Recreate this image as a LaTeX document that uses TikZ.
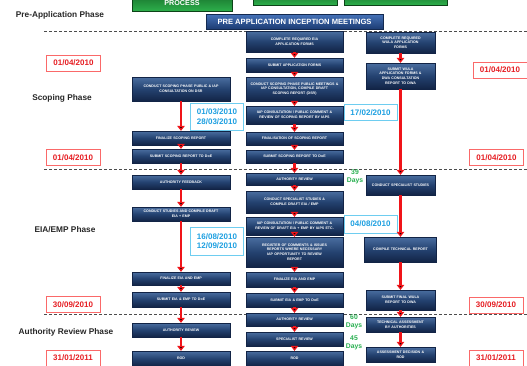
\documentclass[tikz,border=0pt]{standalone}
\usepackage{fontspec}
\setmainfont{Liberation Sans}
\usetikzlibrary{arrows.meta,shadows}
\definecolor{boxtop}{RGB}{74,110,160}
\definecolor{boxmid}{RGB}{36,66,112}
\definecolor{boxbot}{RGB}{18,36,70}
\definecolor{pretop}{RGB}{70,115,185}
\definecolor{prebot}{RGB}{28,60,115}
\definecolor{proctop}{RGB}{18,95,35}
\definecolor{procbot}{RGB}{45,175,75}
\definecolor{datered}{RGB}{230,30,35}
\definecolor{dateframe}{RGB}{250,105,105}
\definecolor{dateblue}{RGB}{30,160,225}
\definecolor{blueframe}{RGB}{110,205,240}
\definecolor{daysgreen}{RGB}{40,175,80}
\definecolor{flowred}{RGB}{240,20,25}

\begin{document}
\begin{tikzpicture}[x=1pt,y=-1pt]
        \tikzstyle{stage}=[draw=boxbot, line width=0.3pt, top color=boxtop, bottom color=boxbot, middle color=boxmid, text=white, font=\fontsize{3.6}{4.6}\selectfont\bfseries, align=center, inner sep=0.5pt, drop shadow={shadow xshift=0.7pt, shadow yshift=-0.7pt, opacity=0.35}]
        \tikzstyle{lcol}=[stage, minimum width=98pt, text width=90pt]
        \tikzstyle{mcol}=[stage, minimum width=97pt, text width=89pt]
        \tikzstyle{rcol}=[stage, minimum width=69pt, text width=63pt]
        \tikzstyle{process}=[draw=proctop!70!black, line width=0.3pt, top color=proctop, bottom color=procbot]
        \tikzstyle{inception}=[draw=prebot!70!black, line width=0.4pt, top color=pretop, bottom color=prebot, text=white, font=\fontsize{7.6}{8}\selectfont\bfseries, minimum width=177pt, minimum height=15pt, inner sep=0pt, drop shadow={shadow xshift=0.8pt, shadow yshift=-0.8pt, opacity=0.35}]
        \tikzstyle{reddate}=[draw=dateframe, line width=0.7pt, fill=white, text=datered, font=\fontsize{8}{9}\selectfont\bfseries, minimum width=54pt, minimum height=16pt, inner sep=0pt]
        \tikzstyle{bluedate}=[draw=blueframe, line width=0.7pt, fill=white, text=dateblue, font=\fontsize{8}{9.5}\selectfont\bfseries, align=center, minimum width=53pt, inner sep=0pt]
        \tikzstyle{phase}=[text=black!85, font=\fontsize{8.3}{9}\selectfont\bfseries]
        \tikzstyle{days}=[text=daysgreen, font=\fontsize{6.8}{8.4}\selectfont\bfseries, align=center]
        \tikzstyle{phaseline}=[draw=black!70, line width=0.9pt, dash pattern=on 3pt off 2pt]
        \tikzstyle{flow}=[draw=flowred, line width=2.6pt, -{Triangle[width=7.5pt,length=5pt]}]
       \useasboundingbox (0,0) rectangle (527,365);
       \clip (0,0) rectangle (527,365);
       % phase separators
       \draw[phaseline] (44,31) -- (527,31);
       \draw[phaseline] (44,169) -- (527,169);
       \draw[phaseline] (44,314) -- (527,314);
       \begin{scope}
         % top banners
         \node [process, minimum width=100pt, minimum height=22pt] (g1) at (182,0) {};
         \node [text=white, font=\fontsize{7.2}{8}\selectfont\bfseries] (proc) at (182,3.5) {PROCESS};
         \node [process, minimum width=84pt, minimum height=16pt] (g2) at (295,-3) {};
         \node [process, minimum width=103pt, minimum height=16pt] (g3) at (395.5,-3) {};
         \node [inception] (pre) at (294.5,21.5) {PRE APPLICATION INCEPTION MEETINGS};
         % phase names
         \node [phase] (p1) at (60,15) {Pre-Application Phase};
         \node [phase] (p2) at (62,98) {Scoping Phase};
         \node [phase] (p3) at (65,230) {EIA/EMP Phase};
         \node [phase] (p4) at (66,332) {Authority Review Phase};
         % dates
         \node [reddate] (dl1) at (73.5,63) {01/04/2010};
         \node [reddate] (dl2) at (73,157.5) {01/04/2010};
         \node [reddate] (dl3) at (73,304.5) {30/09/2010};
         \node [reddate] (dl4) at (73,358) {31/01/2011};
         \node [reddate] (dr1) at (500,70) {01/04/2010};
         \node [reddate] (dr2) at (496.5,157.5) {01/04/2010};
         \node [reddate] (dr3) at (496,305) {30/09/2010};
         \node [reddate] (dr4) at (496,358) {31/01/2011};
         \node [bluedate, minimum height=27pt] (b1) at (217,116.5) {01/03/2010\\28/03/2010};
         \node [bluedate, minimum height=16pt] (b2) at (370.5,112.5) {17/02/2010};
         \node [bluedate, minimum height=18pt] (b3) at (370.5,224) {04/08/2010};
         \node [bluedate, minimum height=28pt] (b4) at (217,241) {16/08/2010\\12/09/2010};
         \node [days] (t1) at (355,177) {39\\Days};
         \node [days] (t2) at (354,322) {60\\Days};
         \node [days] (t3) at (354,343) {45\\Days};
         % left column
         \node [lcol, minimum height=24pt] (l1) at (181,89) {CONDUCT SCOPING PHASE PUBLIC \& IAP\\CONSULTATION ON DSR};
         \node [lcol, minimum height=14pt] (l2) at (181,138) {FINALIZE SCOPING REPORT};
         \node [lcol, minimum height=14pt] (l3) at (181,156) {SUBMIT SCOPING REPORT TO DoE};
         \node [lcol, minimum height=14pt] (l4) at (181,182) {AUTHORITY FEEDBACK};
         \node [lcol, minimum height=14pt] (l5) at (181,214) {CONDUCT STUDIES AND COMPILE DRAFT\\EIA + EMP};
         \node [lcol, minimum height=13pt] (l6) at (181,278.5) {FINALIZE EIA AND EMP};
         \node [lcol, minimum height=15pt] (l7) at (181,299.5) {SUBMIT EIA \& EMP TO DoE};
         \node [lcol, minimum height=14pt] (l8) at (181,330) {AUTHORITY REVIEW};
         \node [lcol, minimum height=15pt] (l9) at (181,358.5) {ROD};
         % middle column
         \node [mcol, minimum height=21pt] (m1) at (294.5,41.5) {COMPLETE REQUIRED EIA\\APPLICATION FORMS};
         \node [mcol, minimum height=14pt] (m2) at (294.5,65) {SUBMIT APPLICATION FORMS};
         \node [mcol, minimum height=24pt] (m3) at (294.5,89) {CONDUCT SCOPING PHASE PUBLIC MEETINGS \&\\IAP CONSULTATION, COMPILE DRAFT\\SCOPING REPORT (DSR)};
         \node [mcol, minimum height=18pt] (m4) at (294.5,115) {IAP CONSULTATION / PUBLIC COMMENT \&\\REVIEW OF SCOPING REPORT BY IAPS};
         \node [mcol, minimum height=13pt] (m5) at (294.5,138.5) {FINALISATION OF SCOPING REPORT};
         \node [mcol, minimum height=13pt] (m6) at (294.5,156.5) {SUBMIT SCOPING REPORT TO DoE};
         \node [mcol, minimum height=12pt] (m7) at (294.5,179) {AUTHORITY REVIEW};
         \node [mcol, minimum height=22pt] (m8) at (294.5,202) {CONDUCT SPECIALIST STUDIES \&\\COMPILE DRAFT EIA / EMP};
         \node [mcol, minimum height=18pt] (m9) at (294.5,226) {IAP CONSULTATION / PUBLIC COMMENT \&\\REVIEW OF DRAFT EIA + EMP BY IAPS ETC.};
         \node [mcol, minimum height=30pt] (m10) at (294.5,252) {REGISTER OF COMMENTS \& ISSUES\\REPORTS WHERE NECESSARY\\IAP OPPORTUNITY TO REVIEW\\REPORT};
         \node [mcol, minimum height=15pt] (m11) at (294.5,279.5) {FINALIZE EIA AND EMP};
         \node [mcol, minimum height=14pt] (m12) at (294.5,300) {SUBMIT EIA \& EMP TO DoE};
         \node [mcol, minimum height=13pt] (m13) at (294.5,319.5) {AUTHORITY REVIEW};
         \node [mcol, minimum height=14pt] (m14) at (294.5,339) {SPECIALIST REVIEW};
         \node [mcol, minimum height=15pt] (m15) at (294.5,358.5) {ROD};
         % right column
         \node [rcol, minimum height=21pt] (r1) at (400.5,42.5) {COMPLETE REQUIRED\\WULA APPLICATION\\FORMS};
         \node [rcol, minimum height=26pt] (r2) at (400.5,76) {SUBMIT WULA\\APPLICATION FORMS \&\\DWA CONSULTATION\\REPORT TO DWA};
         \node [rcol, minimum height=20pt] (r3) at (400.5,185) {CONDUCT SPECIALIST STUDIES};
         \node [rcol, minimum width=72pt, minimum height=25pt] (r4) at (400.5,249.5) {COMPILE TECHNICAL REPORT};
         \node [rcol, minimum height=20pt] (r5) at (400.5,300) {SUBMIT FINAL WULA\\REPORT TO DWA};
         \node [rcol, minimum height=15pt] (r6) at (400.5,324.5) {TECHNICAL ASSESSMENT\\BY AUTHORITIES};
         \node [rcol, minimum height=15pt] (r7) at (400.5,354.5) {ASSESSMENT DECISION \&\\ROD};
         % flows
         \path[flow] (l1) edge (l2);
         \path[flow] (l2) edge (l3);
         \path[flow] (l3) edge (l4);
         \path[flow] (l4) edge (l5);
         \path[flow] (l5) edge (l6);
         \path[flow] (l6) edge (l7);
         \path[flow] (l7) edge (l8);
         \path[flow] (l8) edge (l9);
         \foreach \a/\b in {m1/m2,m2/m3,m3/m4,m4/m5,m5/m6,m6/m7,m7/m8,m8/m9,m9/m10,m10/m11,m11/m12,m12/m13,m13/m14,m14/m15}
           \path[flow] (\a) edge (\b);
         \path[flow] (r1) edge (r2);
         \path[flow] (r2) edge (r3);
         \path[flow] (r3) edge (r4);
         \path[flow] (r4) edge (r5);
         \path[flow] (r5) edge (r6);
         \path[flow] (r6) edge (r7);
        \end{scope}
      \end{tikzpicture}
\end{document}
